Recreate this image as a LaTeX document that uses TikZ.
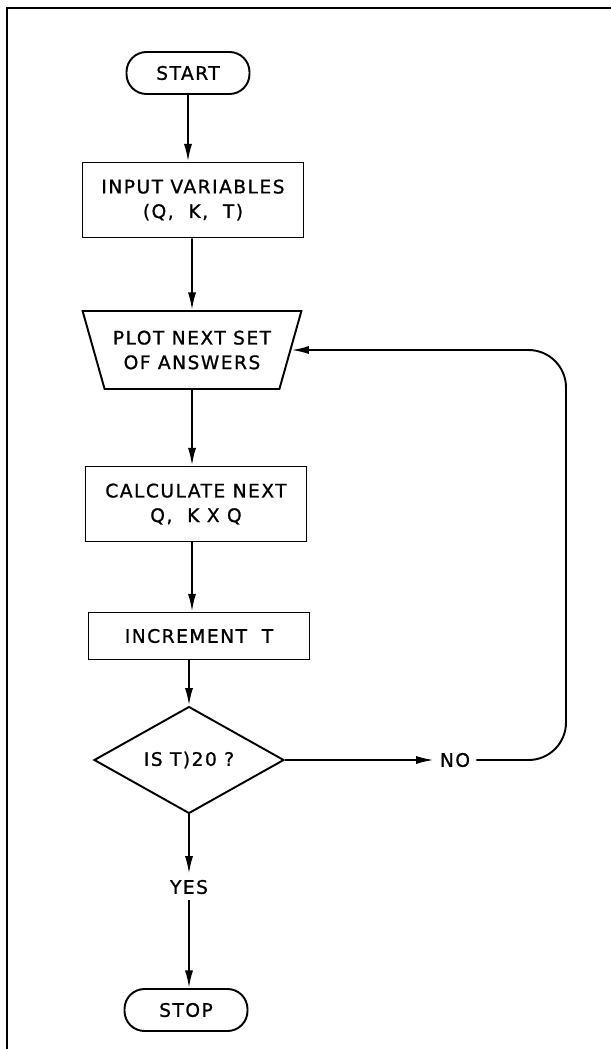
\documentclass[tikz,border=0pt]{standalone}
\usepackage{fontspec}
\newfontfamily\lettering[LetterSpace=8,FakeBold=1]{DejaVu Sans}
\usetikzlibrary{shapes.geometric,arrows.meta}

\tikzset{
  flow/.style={line width=1.1pt, -{Latex[length=10pt,width=4.6pt]}},
  terminal/.style={draw, line width=1.1pt, rounded corners=0.4cm,
    minimum width=2.46cm, minimum height=0.84cm},
  process/.style={draw, line width=1.1pt, align=center,
    minimum width=4.42cm, minimum height=1.5cm},
  plotbox/.style={draw, line width=1.1pt, align=center, trapezium,
    trapezium left angle=67, trapezium right angle=67,
    shape border rotate=180, trapezium stretches=true,
    minimum width=4.38cm, minimum height=1.56cm},
  decision/.style={draw, line width=1.1pt, diamond,
    minimum width=3.8cm, minimum height=2.12cm, inner sep=0pt}
}

\begin{document}
\begin{tikzpicture}[x=0.02cm, y=-0.02cm, font=\lettering\fontsize{10.6}{14}\selectfont]
	\useasboundingbox (0, 0) rectangle (611, 1049);
	% frame
	\draw[line width=1.2pt] (7, 1049) -- (7, 8) -- (611, 8);

	% boxes
	\node[terminal] (start) at (188, 73) {START};
	\node[process] (input) at (193, 200) {INPUT VARIABLES\\(Q,\ \ K,\ \ T)};
	\node[plotbox] (plot) at (192, 350) {PLOT NEXT SET\\OF ANSWERS};
	\node[process] (calc) at (196, 504) {CALCULATE NEXT\\Q,\ \ K X Q};
	\node[process, minimum height=0.94cm] (incr) at (199, 636) {INCREMENT\ \ T};
	\node[decision] (test) at (189, 760) {IS T)20 ?};
	\node (no) at (455, 760) {NO};
	\node (yes) at (189, 887) {YES};
	\node[terminal] (stop) at (186, 1010) {STOP};
	\coordinate (back) at (566, 350);

	% connectors
	\draw[flow] (start) -- (start |- input.north);
	\draw[flow] (input.south -| plot) -- (plot.north);
	\draw[flow] (plot.south) -- (plot.south |- calc.north);
	\draw[flow] (calc.south -| plot) -- (plot |- incr.north);
	\draw[flow] (incr.south -| test) -- (test.north);
	\draw[flow] (test.east) -- (no.west);
	\draw[flow] (test.south) -- (yes.north);
	\draw[flow] (yes.south) -- (stop.north -| yes);
	\draw[flow, rounded corners=0.75cm] (no.east) -| (back) -- (plot);
\end{tikzpicture}
\end{document}
